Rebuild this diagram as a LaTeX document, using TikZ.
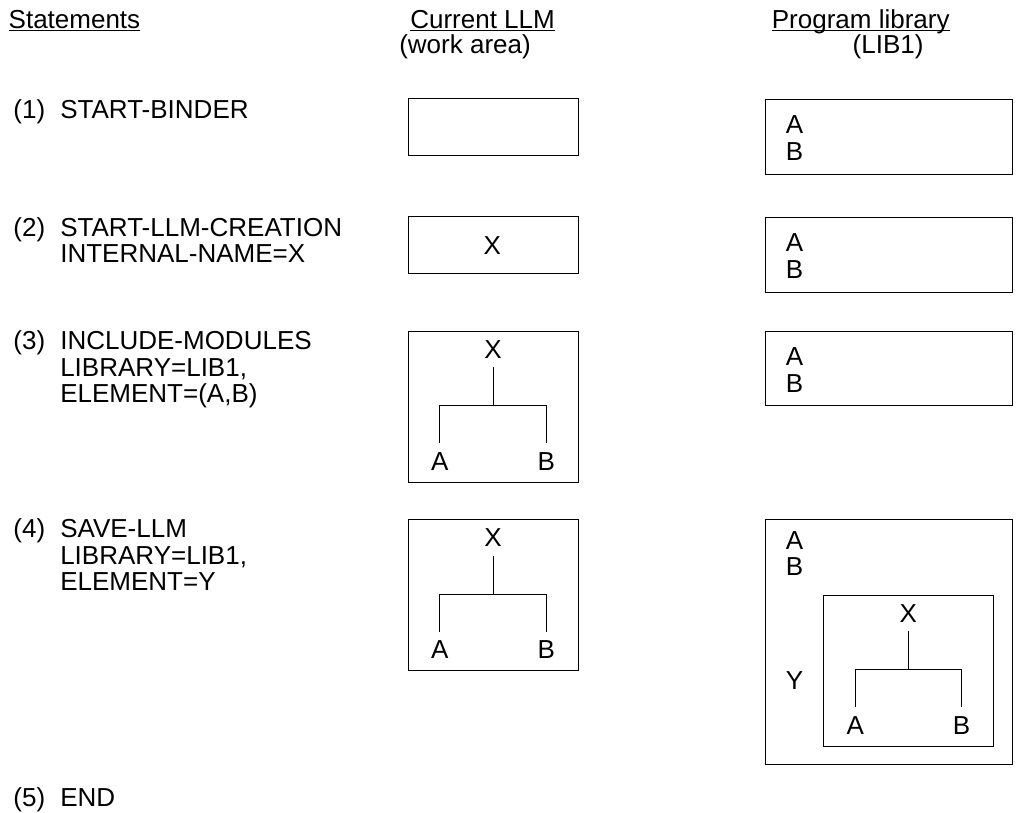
\documentclass[tikz,border=0pt]{standalone}
\usepackage{fontspec}
\setmainfont{Liberation Sans}
\usetikzlibrary{positioning,calc}
\newcommand{\hdline}[1]{\setbox0=\hbox{#1}\rlap{\rule[-1.8pt]{\wd0}{0.7pt}}\box0}
\tikzset{
  txt/.style={inner sep=0pt,anchor=base west,align=left},
  pane/.style={draw,line width=0.7pt,inner sep=0pt},
  treelbl/.style={inner sep=0pt,outer sep=0.22cm,text height=0.46cm,
                  text depth=0pt,anchor=base},
  link/.style={line width=0.7pt}
}
\begin{document}
\begin{tikzpicture}[x=1cm,y=1cm,font=\fontsize{18.5}{19}\selectfont]
    \path[use as bounding box] (0,0) rectangle (25.4,-20.325);

    % column heads
    \node[txt] (hstat) at (0.21,-0.71) {\hdline{Statements}};
    \node[txt] (hcur) at (10.25,-0.71) {\hdline{Current LLM}};
    \node[txt] (hcursub) at (9.975,-1.33) {(work area)};
    \node[txt] (hlib) at (19.29,-0.71) {\hdline{Program library}};
    \node[txt] (hlibsub) at (21.31,-1.33) {(LIB1)};

    % statements (base of a node = its last line)
    \foreach \n/\yy/\k/\stm in {1/-2.97/1/{START-BINDER},
        2/-5.9/2/{START-LLM-CREATION\\INTERNAL-NAME=X},
        3/-8.73/3/{INCLUDE-MODULES\\LIBRARY=LIB1,\\ELEMENT=(A,B)},
        4/-13.43/3/{SAVE-LLM\\LIBRARY=LIB1,\\ELEMENT=Y},
        5/-20.17/1/{END}}{
      \node[txt] (n\n) at (0.33,\yy) {(\n)};
      \node[txt] (s\n) at (1.5,\yy-\k*0.67+0.67) {\stm};
    }

    % current LLM
    \node[pane,minimum width=4.25cm,minimum height=1.41cm] (cur1) at (12.325,-3.17) {};
    \node[pane,minimum width=4.25cm,minimum height=1.415cm] (cur2) at (12.325,-6.125) {};
    \node[treelbl] (cur2-x) at (12.31,-6.35) {X};

    % module trees
    \foreach \p/\xx/\yy in {cur3/12.325/-8.27,cur4/12.325/-12.98,mody/22.71/-14.87}{
      \node[pane,minimum width=4.25cm,minimum height=3.77cm,anchor=north] (\p) at (\xx,\yy) {};
      \node[treelbl] (\p-x) at (\xx,\yy-0.69) {X};
      \node[treelbl] (\p-a) at (\xx-1.33,\yy-3.49) {A};
      \node[treelbl] (\p-b) at (\xx+1.33,\yy-3.49) {B};
      \coordinate (\p-j) at (\xx,\yy-1.875);
      \draw[link] (\p-x) -- (\p-j);
      \draw[link] (\p-a) |- (\p-j) -| (\p-b);
    }

    % program library
    \foreach \r/\yy/\hh in {1/-2.47/1.88,2/-5.42/1.89,3/-8.27/1.865}{
      \node[pane,minimum width=6.16cm,minimum height=\hh cm,anchor=north] (lib\r) at (22.22,\yy) {};
      \node[txt] (libab\r) at (19.64,\yy-1.53) {A\\B};
    }
    \node[pane,minimum width=6.16cm,minimum height=6.125cm,anchor=north] (lib4) at (22.22,-12.98) {};
    \node[txt] (libab4) at (19.64,-14.395) {A\\B};
    \node[txt] (liby) at (19.64,-17.225) {Y};
\end{tikzpicture}
\end{document}
